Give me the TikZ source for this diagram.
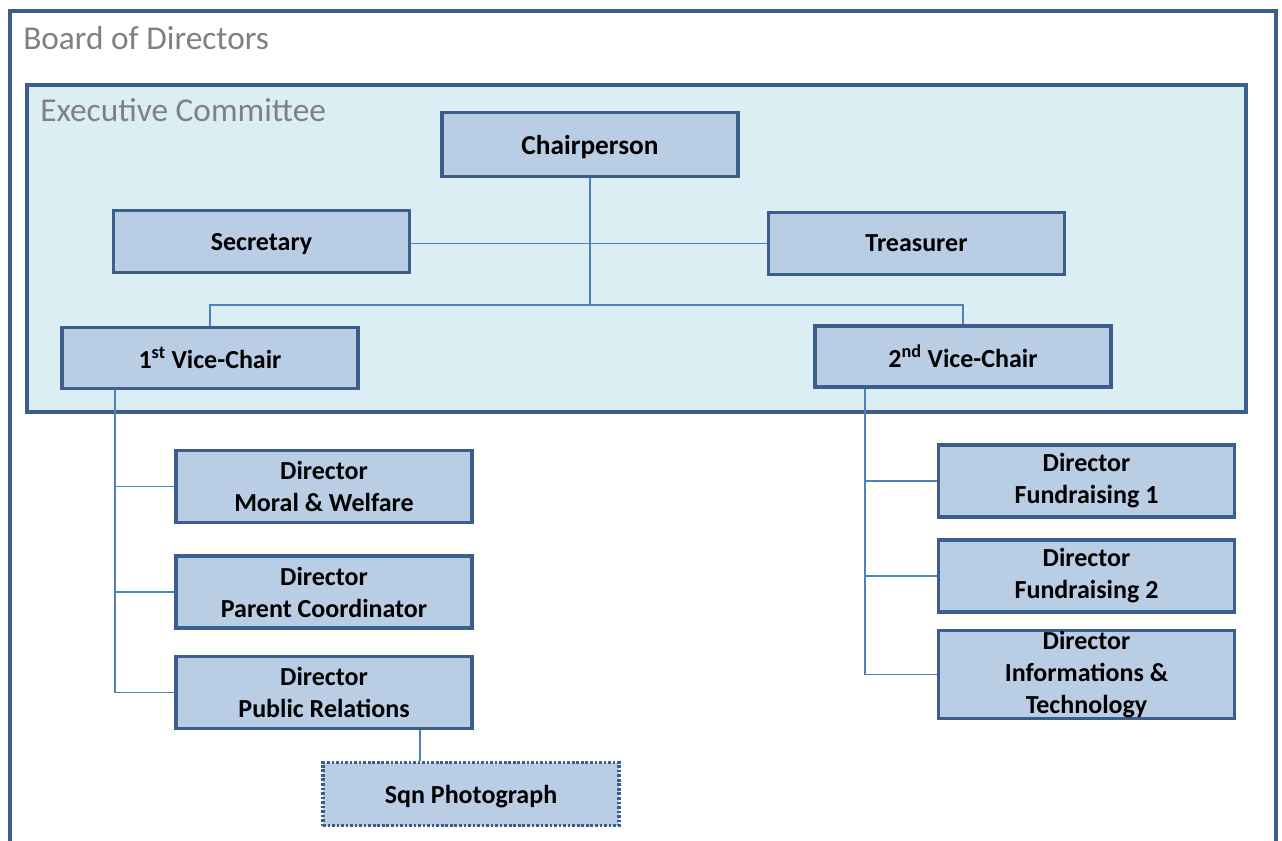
\documentclass[tikz,border=0pt]{standalone}
\usepackage{fontspec}
\setmainfont{Carlito}
\usepackage{tikz}
\usetikzlibrary{calc}
\definecolor{boxfill}{HTML}{B9CDE5}
\definecolor{boxline}{HTML}{3B5E8C}
\definecolor{execfill}{HTML}{DAEEF3}
\definecolor{linkline}{HTML}{4F81BD}
\definecolor{titlegray}{HTML}{808080}
\begin{document}
\begin{tikzpicture}[x=0.75pt,y=-0.75pt,
	post/.style={draw=boxline,fill=boxfill,line width=2.3pt,minimum width=296*0.75pt,inner sep=0pt,align=center,font=\fontsize{19.5}{24}\selectfont\bfseries},
	oneline/.style={text depth=0pt},
	link/.style={draw=linkline,line width=0.9pt}]
			\useasboundingbox (0,0) rectangle (1282,840);
			\fill[white] (0,0) rectangle (1282,840);
			% frames
			\draw [boxline,line width=3pt] (10,870)-- (10,11)-- (1276,11)-- (1276,870);
			\draw [boxline,fill=execfill,line width=2.6pt] (27,85) rectangle (1246,412);
			\draw (23,38) node[anchor=west,inner sep=0pt,titlegray,font=\fontsize{25}{28}\selectfont] {Board of Directors};
			\draw (40,110) node[anchor=west,inner sep=0pt,titlegray,font=\fontsize{25}{28}\selectfont] {Executive Committee};
			% executive posts
			\node[post,oneline,minimum height=64*0.75pt] (chair) at (590,144.5) {\fontsize{20.5}{24}\selectfont Chairperson};
			\node[post,oneline,minimum height=62*0.75pt] (secr) at (261.5,241.5) {Secretary};
			\node[post,oneline,minimum height=62*0.75pt] (treas) at (916.5,243.5) {Treasurer};
			\node[post,oneline,minimum height=61*0.75pt] (vc1) at (210,358) {1\textsuperscript{st} Vice-Chair};
			\node[post,oneline,minimum height=61*0.75pt] (vc2) at (963,356.5) {2\textsuperscript{nd} Vice-Chair};
			% directors
			\node[post,minimum height=72*0.75pt] (moral) at (324,486.5) {Director\\Moral \& Welfare};
			\node[post,minimum height=72*0.75pt] (parent) at (324,592) {Director\\Parent Coordinator};
			\node[post,minimum height=72*0.75pt] (public) at (324,692.5) {Director\\Public Relations};
			\node[post,oneline,dash pattern=on 2pt off 1.4pt,minimum height=63*0.75pt] (photo) at (471,794) {Sqn Photograph};
			\node[post,minimum height=72*0.75pt] (fund1) at (1086.5,481) {Director\\Fundraising 1};
			\node[post,minimum height=72*0.75pt] (fund2) at (1086.5,576) {Director\\Fundraising 2};
			\node[post,minimum height=88*0.75pt] (info) at (1086.5,674.5) {Director\\Informations \&\\Technology};
			\coordinate (hub) at (590,305);
			% connectors
			\draw[link] (chair.south)-- (hub);
			\draw[link] (secr.east |- treas.west)-- (treas.west);
			\draw[link] (vc1.north)|- (hub)-| (vc2.north);
			\draw[link] ([xshift=-95*0.75pt]vc1.south)|- (public.west);
			\draw[link] ([xshift=-95*0.75pt]vc1.south |- moral.west)-- (moral.west);
			\draw[link] ([xshift=-95*0.75pt]vc1.south |- parent.west)-- (parent.west);
			\draw[link] ([xshift=-98*0.75pt]vc2.south)|- (info.west);
			\draw[link] ([xshift=-98*0.75pt]vc2.south |- fund1.west)-- (fund1.west);
			\draw[link] ([xshift=-98*0.75pt]vc2.south |- fund2.west)-- (fund2.west);
			\draw[link] (photo.north -| 420,0)-- (public.south -| 420,0);
		\end{tikzpicture}
\end{document}
